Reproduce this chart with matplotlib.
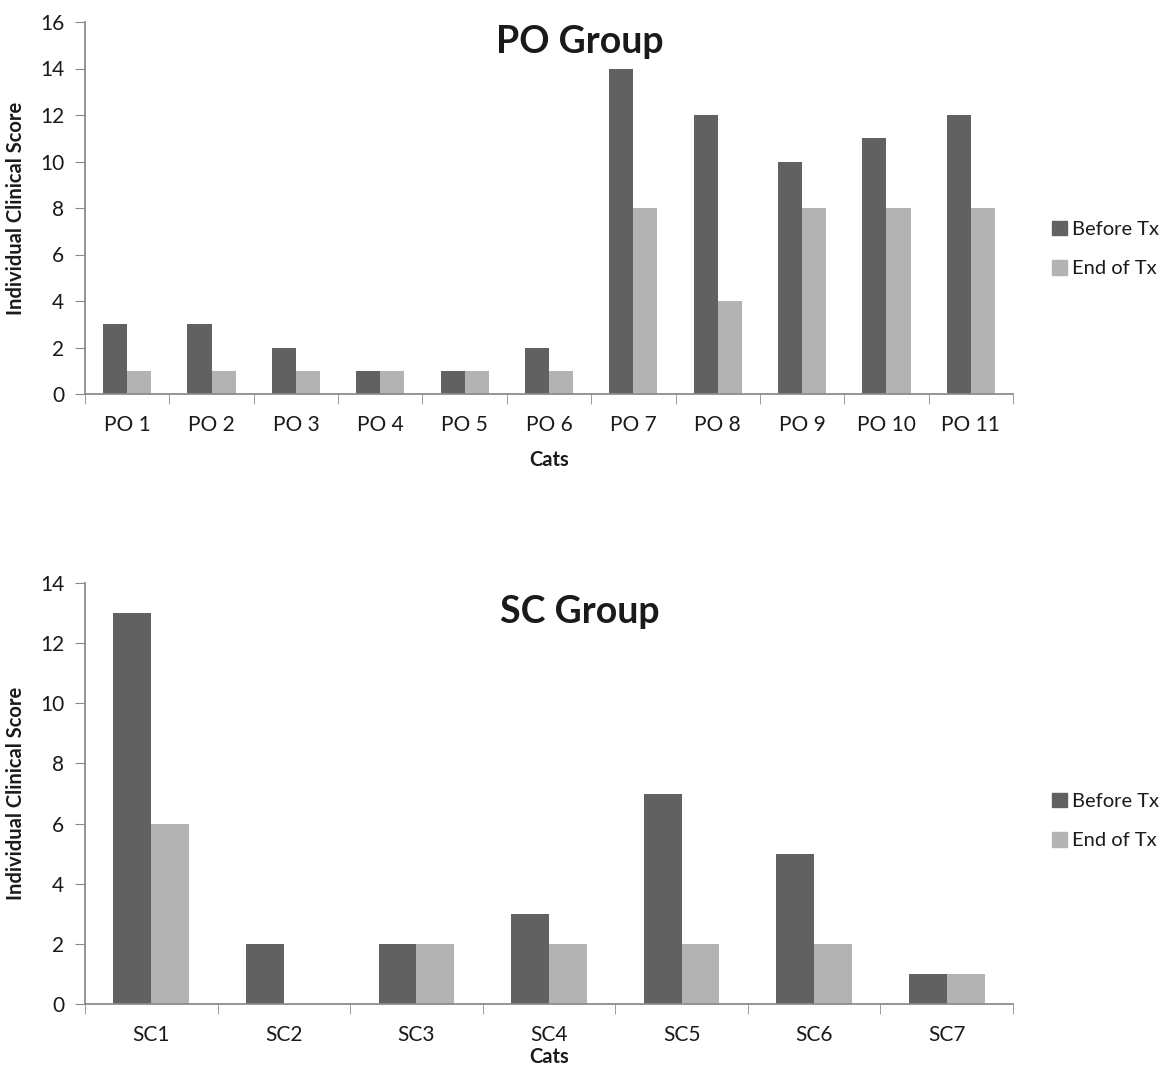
import matplotlib
matplotlib.use("Agg")
import matplotlib.pyplot as plt
import numpy as np
from matplotlib.patches import Patch

plt.rcParams['font.family'] = ['Lato', 'DejaVu Sans']

po_cats = ["PO 1", "PO 2", "PO 3", "PO 4", "PO 5", "PO 6", "PO 7", "PO 8", "PO 9", "PO 10", "PO 11"]
po_before = [3, 3, 2, 1, 1, 2, 14, 12, 10, 11, 12]
po_end = [1, 1, 1, 1, 1, 1, 8, 4, 8, 8, 8]

sc_cats = ["SC1", "SC2", "SC3", "SC4", "SC5", "SC6", "SC7"]
sc_before = [13, 2, 2, 3, 7, 5, 1]
sc_end = [6, 0, 2, 2, 2, 2, 1]

series_names = ["Before Tx", "End of Tx"]
dark = "#616161"
light = "#b3b3b3"
axis_col = "#8c8c8c"
text_col = "#1a1a1a"

fig = plt.figure(figsize=(11.71, 10.66), dpi=100)
W, H = 1171, 1066

def make_axes(x0, x1, ytop, ybot):
    return fig.add_axes([x0 / W, 1 - ybot / H, (x1 - x0) / W, (ybot - ytop) / H])

def draw(ax, cats, before, end, ymax, title, title_ypx, xlabel_ypx):
    n = len(cats)
    x = np.arange(n)
    bw = 1 / 3.5
    ax.bar(x - bw / 2, before, bw, color=dark, label=series_names[0])
    ax.bar(x + bw / 2, end, bw, color=light, label=series_names[1])
    ax.set_xlim(-0.5, n - 0.5)
    ax.set_ylim(0, ymax)
    ax.set_yticks(np.arange(0, ymax + 1, 2))
    ax.set_xticks(x)
    ax.set_xticklabels(cats)
    ax.set_xticks(np.arange(-0.5, n, 1), minor=True)
    ax.tick_params(axis='x', which='major', length=0, pad=15, labelsize=15, labelcolor=text_col)
    ax.tick_params(axis='x', which='minor', length=7, color=axis_col, direction='out')
    ax.tick_params(axis='y', length=7, color=axis_col, labelsize=15, labelcolor=text_col, pad=8)
    for s in ['top', 'right']:
        ax.spines[s].set_visible(False)
    for s in ['left', 'bottom']:
        ax.spines[s].set_color(axis_col)
        ax.spines[s].set_linewidth(1.3)
    fig.text(580 / W, 1 - title_ypx / H, title, ha='center', va='center',
             fontsize=27, fontweight='bold', color=text_col)
    ax.set_ylabel("Individual Clinical Score", fontsize=14.5, fontweight='bold', color=text_col, labelpad=10)
    fig.text(549 / W, 1 - xlabel_ypx / H, "Cats", ha='center', va='center',
             fontsize=14.5, fontweight='bold', color=text_col)

ax1 = make_axes(85, 1013, 22, 394)
draw(ax1, po_cats, po_before, po_end, 16, "PO Group", 42, 460)
ax2 = make_axes(85, 1013, 583, 1004)
draw(ax2, sc_cats, sc_before, sc_end, 14, "SC Group", 612, 1057)

handles = [Patch(color=dark), Patch(color=light)]
for ycen in (249, 821):
    fig.legend(handles, series_names, loc='center left', bbox_to_anchor=(1034 / W, 1 - ycen / H),
               frameon=False, fontsize=14.5, handlelength=0.75, handleheight=0.75, handletextpad=0.25,
               labelspacing=1.1, labelcolor=text_col)

fig.savefig("out.png", dpi=100)
